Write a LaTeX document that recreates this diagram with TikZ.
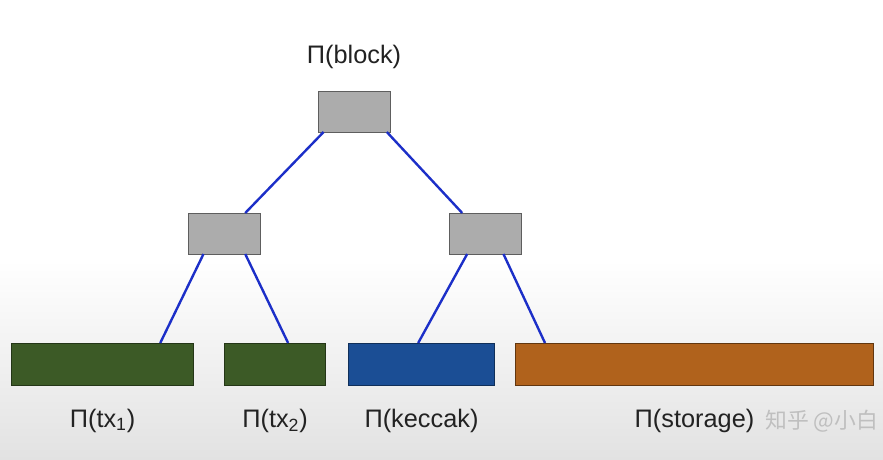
\documentclass[tikz,border=0pt]{standalone}
\usepackage{fontspec}
\setmainfont{Liberation Sans}
\newfontfamily\cjkfont{Noto Sans CJK SC}
\definecolor{boxgray}{HTML}{ACACAC}
\definecolor{boxline}{HTML}{5E5E5E}
\definecolor{leafgreen}{HTML}{3C5A26}
\definecolor{leafblue}{HTML}{1B4E95}
\definecolor{leaforange}{HTML}{B0621C}
\definecolor{edgeblue}{HTML}{1C2FC8}
\definecolor{labeltext}{HTML}{222222}
\definecolor{bggray}{HTML}{E2E2E2}

\begin{document}
\begin{tikzpicture}[
  x=0.025cm, y=-0.025cm,
  every node/.style={inner sep=0pt, outer sep=0pt},
  hashbox/.style={draw=boxline, fill=boxgray, line width=0.7pt,
    minimum width=1.8cm, minimum height=1.025cm},
  leaf/.style={draw, line width=0.7pt, minimum height=1.05cm},
  edge/.style={draw=edgeblue, line width=1.7pt},
  lbl/.style={anchor=base, text=labeltext, font=\fontsize{18}{20}\selectfont}]

  %% ---------------- background ----------------
  \useasboundingbox (0,0) rectangle (883,460);
  \fill[white] (0,0) rectangle (883,460);
  \shade[top color=white, bottom color=bggray] (0,260) rectangle (883,460);

  %% ---------------- tree ----------------
  % inner hash nodes
  \node[hashbox] (root) at (354,111.5) {};
  \node[hashbox] (mL)   at (224,233.5) {};
  \node[hashbox] (mR)   at (485,233.5) {};
  % leaves
  \node[leaf, fill=leafgreen,  draw=leafgreen!60!black,  minimum width=4.525cm] (tx1) at (102.5,364) {};
  \node[leaf, fill=leafgreen,  draw=leafgreen!60!black,  minimum width=2.5cm]   (tx2) at (275,364)   {};
  \node[leaf, fill=leafblue,   draw=leafblue!60!black,   minimum width=3.625cm] (kec) at (421.5,364) {};
  \node[leaf, fill=leaforange, draw=leaforange!55!black, minimum width=8.925cm] (sto) at (694.5,364) {};
  % edges
  \draw[edge] (root.-146.5) -- (mL.44.3);
  \draw[edge] (root.-32.6)  -- (mR.138.3);
  \draw[edge] (mL.-135.7)   -- (tx1.20);
  \draw[edge] (mL.-44.3)    -- (tx2.58.2);
  \draw[edge] (mR.-131.3)   -- (kec.99.5);
  \draw[edge] (mR.-48.7)    -- (sto.172.3);

  %% ---------------- labels ----------------
  \node[lbl] (lblock) at (354,63)   {Π(block)};
  \node[lbl] (ltx1)   at (102.5,427) {Π(tx\textsubscript{1})};
  \node[lbl] (ltx2)   at (275,427)   {Π(tx\textsubscript{2})};
  \node[lbl] (lkec)   at (421.5,427) {Π(keccak)};
  \node[lbl] (lsto)   at (694.5,427) {Π(storage)};
  % watermark, kept clear of the last label
  \node[lbl, anchor=base east, text=white!50!gray, font=\cjkfont\fontsize{15.5}{18}\selectfont] (mark) at (878,428) {知乎 @小白};

\end{tikzpicture}
\end{document}
